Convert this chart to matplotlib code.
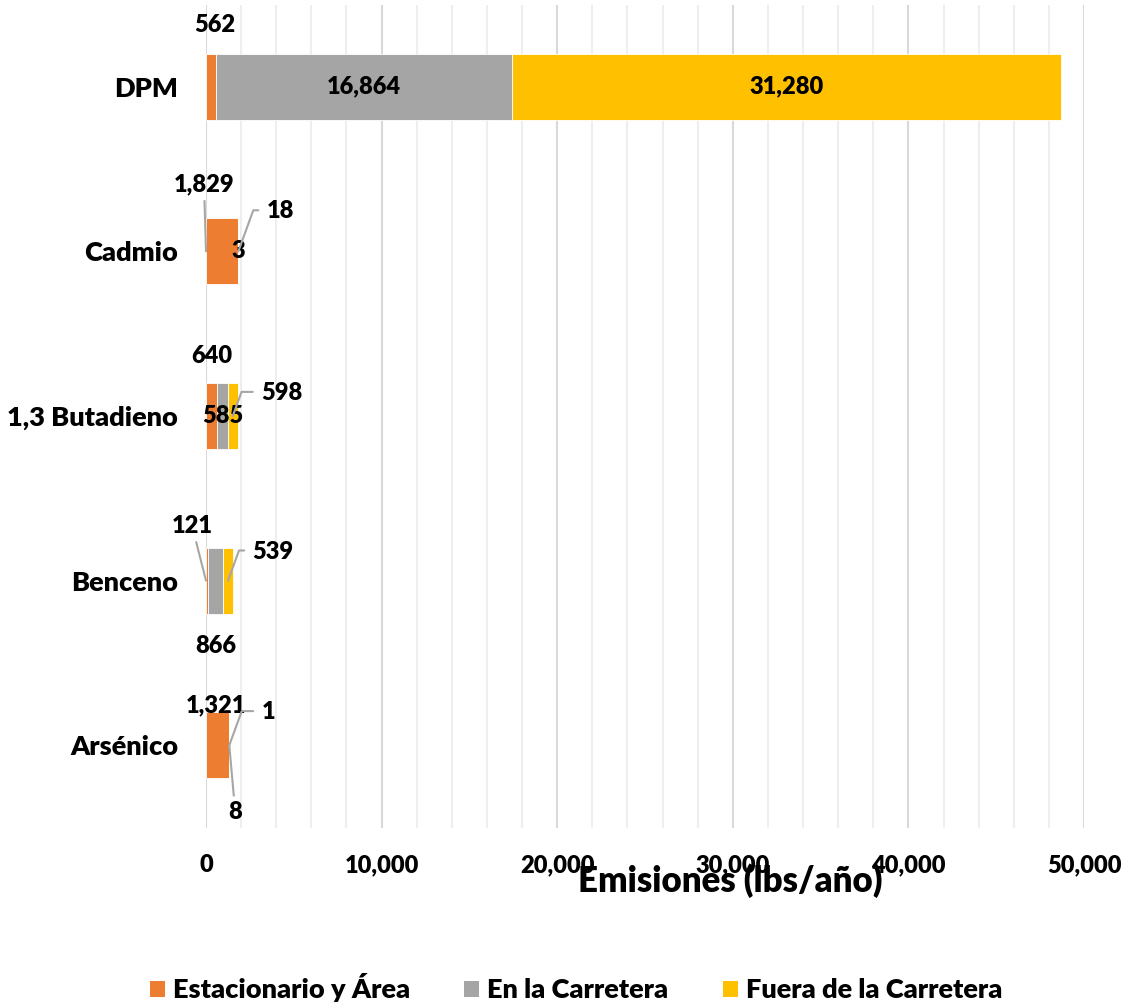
import matplotlib
matplotlib.use("Agg")
import matplotlib.pyplot as plt
import numpy as np
from matplotlib.ticker import MultipleLocator, FuncFormatter
from matplotlib.patches import Patch

categories = ["DPM", "Cadmio", "1,3 Butadieno", "Benceno", "Arsénico"]
series_names = ["Estacionario y Área", "En la Carretera", "Fuera de la Carretera"]
estacionario = [562, 1829, 640, 121, 1321]
carretera = [16864, 3, 585, 866, 8]
fuera = [31280, 18, 598, 539, 1]
x_ticks = [0, 10000, 20000, 30000, 40000, 50000]
x_title = "Emisiones (lbs/año)"

colors = ["#ED7D31", "#A5A5A5", "#FFC000"]
FONT = "Lato"
W = "heavy"
plt.rcParams["font.family"] = [FONT, "DejaVu Sans"]
plt.rcParams["font.weight"] = W

fig = plt.figure(figsize=(11.24, 10.08), dpi=100)
ax = fig.add_axes([206/1124, 1-827.5/1008, (1084-206)/1124, 823/1008])

series = [estacionario, carretera, fuera]
y = np.arange(len(categories))
left = np.zeros(len(categories))
bars = []
for vals, c, name in zip(series, colors, series_names):
    ax.barh(y, vals, left=left, height=0.4, color=c, edgecolor="white",
            linewidth=0.6, label=name, zorder=3)
    bars.append((np.array(vals, float), left.copy()))
    left = left + np.array(vals, float)

ax.set_ylim(len(categories) - 0.5, -0.5)
ax.set_xlim(x_ticks[0], x_ticks[-1])
ax.set_yticks(y)
ax.set_yticklabels(categories, fontsize=19.5, fontweight=W)
ax.set_xticks(x_ticks)
ax.xaxis.set_minor_locator(MultipleLocator(2000))
ax.xaxis.set_major_formatter(FuncFormatter(lambda v, p: f"{int(v):,}"))
for lab in ax.get_xticklabels():
    lab.set_fontsize(17)
    lab.set_fontweight(W)
ax.tick_params(axis="both", which="both", length=0)
ax.tick_params(axis="x", pad=19)
ax.tick_params(axis="y", pad=20)
ax.grid(axis="x", which="minor", color="#EEEEEE", linewidth=1.5, zorder=0)
ax.grid(axis="x", which="major", color="#D9D9D9", linewidth=1.5, zorder=0)
for s in ax.spines.values():
    s.set_visible(False)

# data labels: (series index, category index, offset px or None for centred, leader)
label_spec = [
    (0, 0, (4, 62), False), (1, 0, None, False), (2, 0, None, False),
    (0, 1, (-2, 67), True), (1, 1, None, False), (2, 1, (42, 40), "angle"),
    (0, 2, (0, 60), False), (1, 2, None, False), (2, 2, (49, 23), "angle"),
    (0, 3, (-14, 55), True), (1, 3, (0, -65), False), (2, 3, (45, 29), "angle"),
    (0, 4, (-2, 40), False), (1, 4, (6, -67), True), (2, 4, (39, 33), "angle"),
]
FS = 17
for si, ci, off, leader in label_spec:
    vals, lefts = bars[si]
    v = vals[ci]
    xc = lefts[ci] + v / 2
    txt = f"{int(v):,}"
    if off is None:
        ax.text(xc, y[ci], txt, ha="center", va="center", fontsize=FS,
                fontweight=W, zorder=5)
        continue
    if leader is False:
        ax.annotate(txt, xy=(xc, y[ci]), xytext=off, textcoords="offset pixels",
                    ha="center", va="center", fontsize=FS, fontweight=W, zorder=5)
    elif leader is True:
        xa = lefts[ci] if (si == 0 and ci in (1, 3)) else xc
        ax.annotate(txt, xy=(xa, y[ci]), xytext=off, textcoords="offset pixels",
                    ha="center", va="center", fontsize=FS, fontweight=W, zorder=5,
                    arrowprops=dict(arrowstyle="-", color="#A6A6A6", lw=1.5,
                                    shrinkA=2, shrinkB=0))
    else:
        ax.annotate(txt, xy=(xc, y[ci]), xytext=off, textcoords="offset pixels",
                    ha="center", va="center", fontsize=FS, fontweight=W, zorder=5,
                    arrowprops=dict(arrowstyle="-", color="#A6A6A6", lw=1.5,
                                    shrinkA=4, shrinkB=0, relpos=(0, 0.55),
                                    connectionstyle="angle,angleA=0,angleB=70,rad=0"))

fig.text(730/1124, 1-881/1008, x_title, ha="center", va="center",
         fontsize=25, fontweight=W)

handles = [Patch(facecolor=c, label=n) for c, n in zip(colors, series_names)]
fig.legend(handles=handles, loc="center", bbox_to_anchor=(576/1124, 1-988/1008),
           ncol=3, frameon=False, handlelength=0.55, handleheight=0.55,
           handletextpad=0.3, columnspacing=2.0,
           prop={"weight": W, "size": 19.5, "family": [FONT, "DejaVu Sans"]})

fig.savefig("out.png", dpi=100)
